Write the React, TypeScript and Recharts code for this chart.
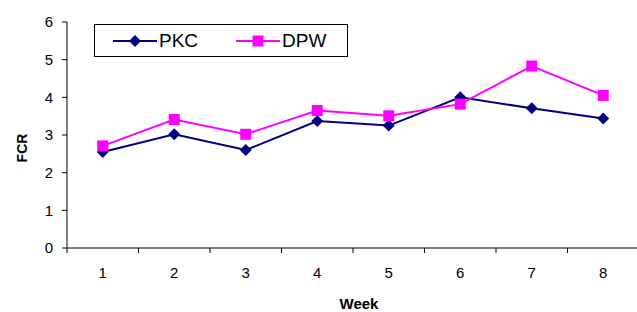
import React from 'react';
import { LineChart, Line, XAxis, YAxis, Legend } from 'recharts';

const weeks = [1, 2, 3, 4, 5, 6, 7, 8];
const pkc = [2.55, 3.02, 2.6, 3.37, 3.25, 4.0, 3.71, 3.44];
const dpw = [2.71, 3.41, 3.02, 3.65, 3.51, 3.82, 4.83, 4.05];
const seriesOrder = ['PKC', 'DPW'];
const yTicks = [0, 1, 2, 3, 4, 5, 6];
const xTicks = [0.5, 1, 1.5, 2, 2.5, 3, 3.5, 4, 4.5, 5, 5.5, 6, 6.5, 7, 7.5, 8, 8.5];

const data = weeks.map((w, i) => ({ week: w, PKC: pkc[i], DPW: dpw[i] }));

const FONT = '"Liberation Sans", Arial, Helvetica, sans-serif';
const NAVY = '#000080';
const MAGENTA = '#FF00FF';

const Diamond = (props: any) => {
  const { cx, cy, fill } = props;
  if (cx == null || cy == null) return null;
  const s = 6;
  return (
    <polygon
      points={`${cx},${cy - s} ${cx + s},${cy} ${cx},${cy + s} ${cx - s},${cy}`}
      fill={fill || NAVY}
    />
  );
};

const Square = (props: any) => {
  const { cx, cy, fill } = props;
  if (cx == null || cy == null) return null;
  const s = 5.5;
  return <rect x={cx - s} y={cy - s} width={2 * s} height={2 * s} fill={fill || MAGENTA} />;
};

const markerFor: Record<string, any> = { PKC: Diamond, DPW: Square };

const XTick = (props: any) => {
  const { x, y, payload } = props;
  const v = payload.value;
  if (Number.isInteger(v)) {
    return (
      <text x={x} y={y + 30} textAnchor="middle" fontFamily={FONT} fontSize={15} fill="#000">
        {v}
      </text>
    );
  }
  return <line x1={x} x2={x} y1={y} y2={y + 5} stroke="#000" strokeWidth={1} />;
};

const LegendContent = (props: any) => {
  const payload = [...(props.payload || [])].sort(
    (a: any, b: any) => seriesOrder.indexOf(a.value) - seriesOrder.indexOf(b.value)
  );
  return (
    <div
      style={{
        width: '100%',
        height: '100%',
        border: '1px solid #000',
        boxSizing: 'border-box',
        display: 'flex',
        alignItems: 'center',
        fontFamily: FONT,
        fontSize: 19,
        background: '#fff',
      }}
    >
      {payload.map((entry: any, i: number) => {
        const M = markerFor[entry.value];
        return (
          <div
            key={entry.value}
            style={{ display: 'flex', alignItems: 'center', marginLeft: i === 0 ? 18 : 38 }}
          >
            <svg width={44} height={14} style={{ display: 'block' }}>
              <line x1={0} x2={44} y1={7} y2={7} stroke={entry.color} strokeWidth={2} />
              <M cx={22} cy={7} fill={entry.color} />
            </svg>
            <span style={{ marginLeft: 2, color: '#000', lineHeight: '20px' }}>{entry.value}</span>
          </div>
        );
      })}
    </div>
  );
};

export default function App() {
  return (
    <div
      style={{
        position: 'absolute',
        left: 0,
        top: 0,
        width: 637,
        height: 312,
        overflow: 'hidden',
        background: '#fff',
      }}
    >
      <LineChart width={640} height={312} data={data} margin={{ top: 22, right: 1, bottom: 0, left: 0 }}>
        <XAxis
          dataKey="week"
          type="number"
          domain={[0.5, 8.5]}
          ticks={xTicks}
          interval={0}
          height={64}
          tickSize={0}
          tickMargin={0}
          tickLine={false}
          tick={<XTick />}
          axisLine={{ stroke: '#000', strokeWidth: 1 }}
          label={{
            content: () => (
              <text x={359} y={309} textAnchor="middle" fontFamily={FONT} fontSize={15} fontWeight="bold" fill="#000">
                Week
              </text>
            ),
          }}
        />
        <YAxis
          type="number"
          domain={[0, 6]}
          ticks={yTicks}
          interval={0}
          width={67}
          tickSize={5}
          tickMargin={9}
          tickLine={{ stroke: '#000' }}
          axisLine={{ stroke: '#000', strokeWidth: 1 }}
          tick={{ fontFamily: FONT, fontSize: 15, fill: '#000' }}
          label={{
            content: () => (
              <text
                transform="translate(27,148) rotate(-90)"
                textAnchor="middle"
                fontFamily={FONT}
                fontSize={14}
                fontWeight="bold"
                fill="#000"
              >
                FCR
              </text>
            ),
          }}
        />
        <Legend
          layout="vertical"
          align="center"
          verticalAlign="middle"
          content={<LegendContent />}
          wrapperStyle={{ position: 'absolute', left: 94, top: 24, width: 254, height: 33 }}
        />
        <Line
          type="linear"
          dataKey="PKC"
          name="PKC"
          stroke={NAVY}
          strokeWidth={2}
          dot={<Diamond fill={NAVY} />}
          activeDot={false}
          isAnimationActive={false}
        />
        <Line
          type="linear"
          dataKey="DPW"
          name="DPW"
          stroke={MAGENTA}
          strokeWidth={2}
          dot={<Square fill={MAGENTA} />}
          activeDot={false}
          isAnimationActive={false}
        />
      </LineChart>
    </div>
  );
}
